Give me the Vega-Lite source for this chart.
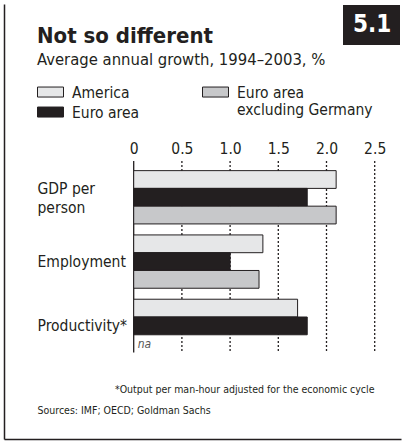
{
  "$schema": "https://vega.github.io/schema/vega-lite/v6.json",
  "autosize": "none",
  "width": 397,
  "height": 435,
  "padding": {"left": 4, "top": 4, "right": 1, "bottom": 2},
  "background": "white",
  "config": {
    "view": {"stroke": null},
    "font": "DejaVu Sans Condensed, Liberation Sans Narrow, DejaVu Sans",
    "text": {"font": "DejaVu Sans Condensed, Liberation Sans Narrow, DejaVu Sans"}
  },
  "title": {
    "text": "Not so different",
    "subtitle": "Average annual growth, 1994–2003, %",
    "anchor": "start",
    "frame": "group",
    "orient": "top",
    "offset": 0,
    "dx": 33,
    "dy": 65,
    "fontSize": 22,
    "fontWeight": "bold",
    "color": "#231f20",
    "subtitleFontSize": 16.5,
    "subtitleColor": "#231f20",
    "subtitlePadding": 4
  },
  "datasets": {
    "bars": [
      {"measure": "GDP per person", "series": "America", "value": 2.1},
      {"measure": "GDP per person", "series": "Euro area", "value": 1.8},
      {"measure": "Employment", "series": "America", "value": 1.34},
      {"measure": "Employment", "series": "Euro area", "value": 1.0},
      {"measure": "Productivity*", "series": "America", "value": 1.7},
      {"measure": "Productivity*", "series": "Euro area", "value": 1.8}
    ],
    "barsExG": [
      {"measure": "GDP per person", "series": "Euro area excluding Germany", "value": 2.1},
      {"measure": "Employment", "series": "Euro area excluding Germany", "value": 1.3}
    ],
    "ticks": [
      {"v": 0, "style": "solid"},
      {"v": 0.5, "style": "dot"},
      {"v": 1.0, "style": "dot"},
      {"v": 1.5, "style": "dot"},
      {"v": 2.0, "style": "dot"},
      {"v": 2.5, "style": "dot"}
    ],
    "na": [
      {"measure": "Productivity*", "series": "Euro area excluding Germany", "label": "na"}
    ],
    "tags": [
      {"tag": "5.1", "tab": "tab"}
    ]
  },
  "resolve": {
    "axis": {"x": "independent"},
    "scale": {"fill": "independent"},
    "legend": {"fill": "independent"}
  },
  "layer": [
    {
      "data": {"name": "ticks"},
      "mark": {"type": "rule", "color": "#231f20", "strokeWidth": 1.3},
      "encoding": {
        "x": {
          "field": "v", "type": "quantitative",
          "scale": {"domain": [-1.3454, 2.7728], "nice": false, "zero": false},
          "axis": {
            "orient": "top", "domain": false, "ticks": false, "labels": false, "grid": false,
            "title": "*Output per man-hour adjusted for the economic cycle",
            "titleX": 370, "titleY": 388, "titleAlign": "right", "titleBaseline": "alphabetic",
            "titleFontSize": 10.5, "titleFontWeight": "normal", "titleColor": "#231f20", "titleAngle": 0
          }
        },
        "y": {"datum": "GDP per person", "type": "nominal", "bandPosition": -0.18},
        "y2": {"datum": "Productivity*", "bandPosition": 1},
        "strokeDash": {
          "field": "style", "type": "nominal",
          "scale": {"domain": ["solid", "dot"], "range": [[1, 0], [2, 2]]},
          "legend": null
        }
      }
    },
    {
      "data": {"name": "bars"},
      "mark": {"type": "bar", "stroke": "#231f20", "strokeWidth": 1},
      "encoding": {
        "y": {
          "field": "measure", "type": "nominal",
          "scale": {"domain": ["_a", "GDP per person", "Employment", "Productivity*", "_b"], "paddingInner": 0.171, "paddingOuter": 0.968, "align": 0.822},
          "axis": {
            "orient": "left", "title": null, "domain": true, "domainColor": "#231f20", "domainWidth": 1.5,
            "ticks": false, "tickSize": 0, "grid": false,
            "labelAlign": "left", "labelPadding": -33, "labelFontSize": 15.5, "labelColor": "#231f20",
            "labelLineHeight": 19,
            "labelOffset": {"condition": {"test": "datum.value == 'GDP per person'", "value": -8}, "value": 0},
            "labelExpr": "datum.value == 'GDP per person' ? ['GDP per', 'person'] : (indexof(datum.value, '_') == 0 ? '' : datum.value)"
          }
        },
        "yOffset": {
          "field": "series", "type": "nominal",
          "scale": {"domain": ["America", "Euro area", "Euro area excluding Germany"], "paddingInner": 0, "paddingOuter": 0}
        },
        "x": {
          "field": "value", "type": "quantitative",
          "axis": {
            "orient": "bottom", "values": [0, 0.5, 1, 1.5, 2, 2.5],
            "domain": true, "domainColor": "#231f20", "domainWidth": 1.5,
            "ticks": false, "tickSize": 0, "grid": false,
            "labelPadding": -285.5, "labelBaseline": "alphabetic", "labelFontSize": 15.5, "labelColor": "#231f20",
            "labelFlush": false, "labelOverlap": false,
            "labelExpr": "datum.value == 0 ? '0' : format(datum.value, '.1f')",
            "title": "Sources: IMF; OECD; Goldman Sachs",
            "titleX": 33, "titleY": -26, "titleAlign": "left", "titleBaseline": "alphabetic",
            "titleFontSize": 10.5, "titleFontWeight": "normal", "titleColor": "#231f20"
          }
        },
        "x2": {"datum": 0},
        "fill": {
          "field": "series", "type": "nominal",
          "scale": {"domain": ["America", "Euro area"], "range": ["#e6e7e8", "#231f20"]},
          "legend": {
            "title": null, "orient": "none", "legendX": 33, "legendY": 80,
            "direction": "vertical", "rowPadding": 3, "padding": 0,
            "symbolType": "M-1,-0.805H1V-0.035H-1Z", "symbolSize": 676,
            "symbolStrokeColor": "#231f20", "symbolStrokeWidth": 1,
            "labelFontSize": 15.5, "labelColor": "#231f20", "labelOffset": 8, "labelBaseline": "alphabetic",
            "labelLimit": 300
          }
        }
      }
    },
    {
      "data": {"name": "barsExG"},
      "mark": {"type": "bar", "stroke": "#231f20", "strokeWidth": 1},
      "encoding": {
        "y": {"field": "measure", "type": "nominal"},
        "yOffset": {"field": "series", "type": "nominal"},
        "x": {"field": "value", "type": "quantitative", "axis": null},
        "x2": {"datum": 0},
        "fill": {
          "field": "series", "type": "nominal",
          "scale": {"domain": ["Euro area excluding Germany"], "range": ["#c7c8ca"]},
          "legend": {
            "title": null, "orient": "none", "legendX": 198, "legendY": 80,
            "direction": "vertical", "padding": 0,
            "symbolType": "M-1,-0.805H1V-0.035H-1Z", "symbolSize": 676,
            "symbolStrokeColor": "#231f20", "symbolStrokeWidth": 1,
            "labelFontSize": 15.5, "labelColor": "#231f20", "labelOffset": 8, "labelBaseline": "alphabetic",
            "labelLimit": 300, "labelLineHeight": 19,
            "labelExpr": "['Euro area', 'excluding Germany']"
          }
        }
      }
    },
    {
      "data": {"name": "na"},
      "mark": {"type": "text", "align": "left", "dx": 4, "fontStyle": "italic", "fontSize": 12, "color": "#555555"},
      "encoding": {
        "x": {"datum": 0, "type": "quantitative", "axis": null},
        "y": {"field": "measure", "type": "nominal"},
        "yOffset": {"field": "series", "type": "nominal"},
        "text": {"field": "label"}
      }
    },
    {
      "data": {"name": "tags"},
      "mark": {"type": "text", "text": "", "color": "#d1d3d4"},
      "encoding": {
        "opacity": {
          "field": "tag", "type": "ordinal", "scale": {"range": [1]},
          "legend": {
            "title": null, "orient": "none", "legendX": 339, "legendY": 1,
            "fillColor": "#231f20", "padding": 8,
            "symbolSize": 0, "symbolStrokeWidth": 0, "labelOffset": -22,
            "labelColor": "white", "labelFontSize": 24, "labelFontWeight": "bold"
          }
        },
        "size": {
          "field": "tab", "type": "ordinal", "scale": {"range": [1296]},
          "legend": {
            "title": null, "orient": "none", "legendX": -12, "legendY": 4, "padding": 0,
            "symbolType": "M-0.278,-1H0.278V1H-0.278Z",
            "symbolFillColor": "#d1d3d4", "symbolStrokeWidth": 0, "symbolOpacity": 1,
            "labelExpr": "''", "labelOffset": 0
          }
        }
      }
    }
  ]
}
